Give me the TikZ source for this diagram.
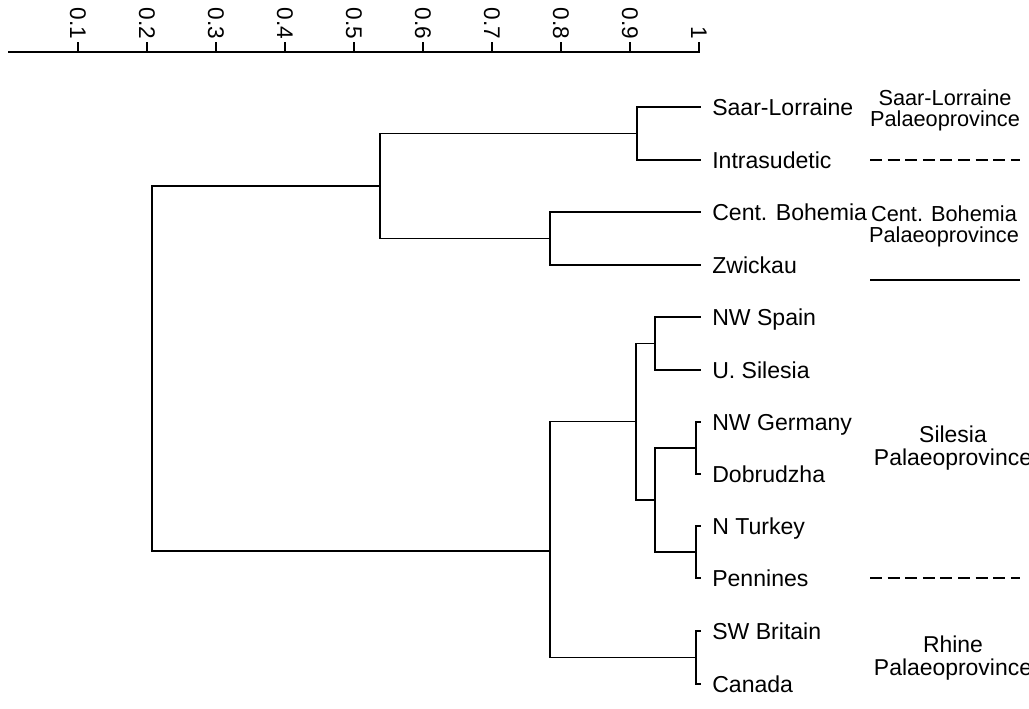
\documentclass[tikz,border=0pt]{standalone}
\usepackage{fontspec}
\setmainfont{Liberation Sans}
\usetikzlibrary{calc}
\tikzset{
	link/.style={line width=1.3pt, line cap=rect},
	leaf/.style={anchor=west, inner xsep=9pt, inner ysep=0pt, text height=12.4pt, text depth=0pt, font=\fontsize{17.3}{19}\selectfont},
	prov/.style={align=center, inner sep=0pt, font=\fontsize{16.3}{15.6}\selectfont},
	bigprov/.style={align=center, inner sep=0pt, font=\fontsize{17.2}{17.6}\selectfont},
	ticklbl/.style={anchor=east, rotate=-90, inner sep=2pt, font=\fontsize{17}{19}\selectfont},
}

\begin{document}
\begin{tikzpicture}[x=0.75pt, y=-0.75pt]
		%%%%% START %%%%%
		\useasboundingbox (0, 0) rectangle (1029, 708);
		
		% similarity axis
		\draw[link] (9, 52) -- (699, 52);
		\foreach \v/\t in {1/0.1, 2/0.2, 3/0.3, 4/0.4, 5/0.5, 6/0.6, 7/0.7, 8/0.8, 9/0.9, 10/1}
			\draw[link] (9+69*\v, 52) -- ++(0, -9) node[ticklbl] (tick\v) {\t};
		
		% leaves
		\node[leaf] (saar) at (700, 107) {Saar-Lorraine};
		\node[leaf] (intra) at (700, 160) {Intrasudetic};
		\node[leaf] (bohem) at (700, 212) {Cent. Bohemia};
		\node[leaf] (zwick) at (700, 265) {Zwickau};
		\node[leaf] (spain) at (700, 317) {NW Spain};
		\node[leaf] (usil) at (700, 370) {U. Silesia};
		\node[leaf] (nwger) at (700, 422) {NW Germany};
		\node[leaf] (dobr) at (700, 474) {Dobrudzha};
		\node[leaf] (turk) at (700, 526) {N Turkey};
		\node[leaf] (penn) at (700, 578) {Pennines};
		\node[leaf] (swbr) at (700, 631) {SW Britain};
		\node[leaf] (canada) at (700, 684) {Canada};
		
		% joins
		\coordinate (jA) at (637, 133.5);
		\coordinate (jB) at (550, 238.5);
		\coordinate (jC) at (380, 186);
		\coordinate (jD) at (655, 343.5);
		\coordinate (jE) at (696, 448);
		\coordinate (jF) at (696, 552);
		\coordinate (jG) at (655, 500);
		\coordinate (jH) at (636, 421.5);
		\coordinate (jI) at (696, 657.5);
		\coordinate (jJ) at (550, 551);
		\coordinate (root) at (152, 368.5);
		
		\draw[link] (saar.west) -| (jA) |- (intra.west);
		\draw[link] (bohem.west) -| (jB) |- (zwick.west);
		\draw[link] (jA) -| (jC) |- (jB);
		\draw[link] (spain.west) -| (jD) |- (usil.west);
		\draw[link] (nwger.west) -| (jE) |- (dobr.west);
		\draw[link] (turk.west) -| (jF) |- (penn.west);
		\draw[link] (jE) -| (jG) |- (jF);
		\draw[link] (jD) -| (jH) |- (jG);
		\draw[link] (swbr.west) -| (jI) |- (canada.west);
		\draw[link] (jH) -| (jJ) |- (jI);
		\draw[link] (jC) -| (root) |- (jJ);
		
		% palaeoprovinces
		\node[prov] (provSaar) at (945, 110) {Saar-Lorraine\\Palaeoprovince};
		\node[prov] (provBohem) at (944, 226) {Cent. Bohemia\\Palaeoprovince};
		\node[bigprov] (provSil) at (953, 448) {Silesia\\Palaeoprovince};
		\node[bigprov] (provRhine) at (953, 658) {Rhine\\Palaeoprovince};
		
		\draw[link, line cap=butt, dash pattern=on 9pt off 4.2pt] (870, 160) -- (1020, 160);
		\draw[link, line cap=butt] (870, 280) -- (1020, 280);
		\draw[link, line cap=butt, dash pattern=on 9pt off 4.2pt] (870, 578) -- (1020, 578);
		
		%%%%% END %%%%%
	\end{tikzpicture}
\end{document}
